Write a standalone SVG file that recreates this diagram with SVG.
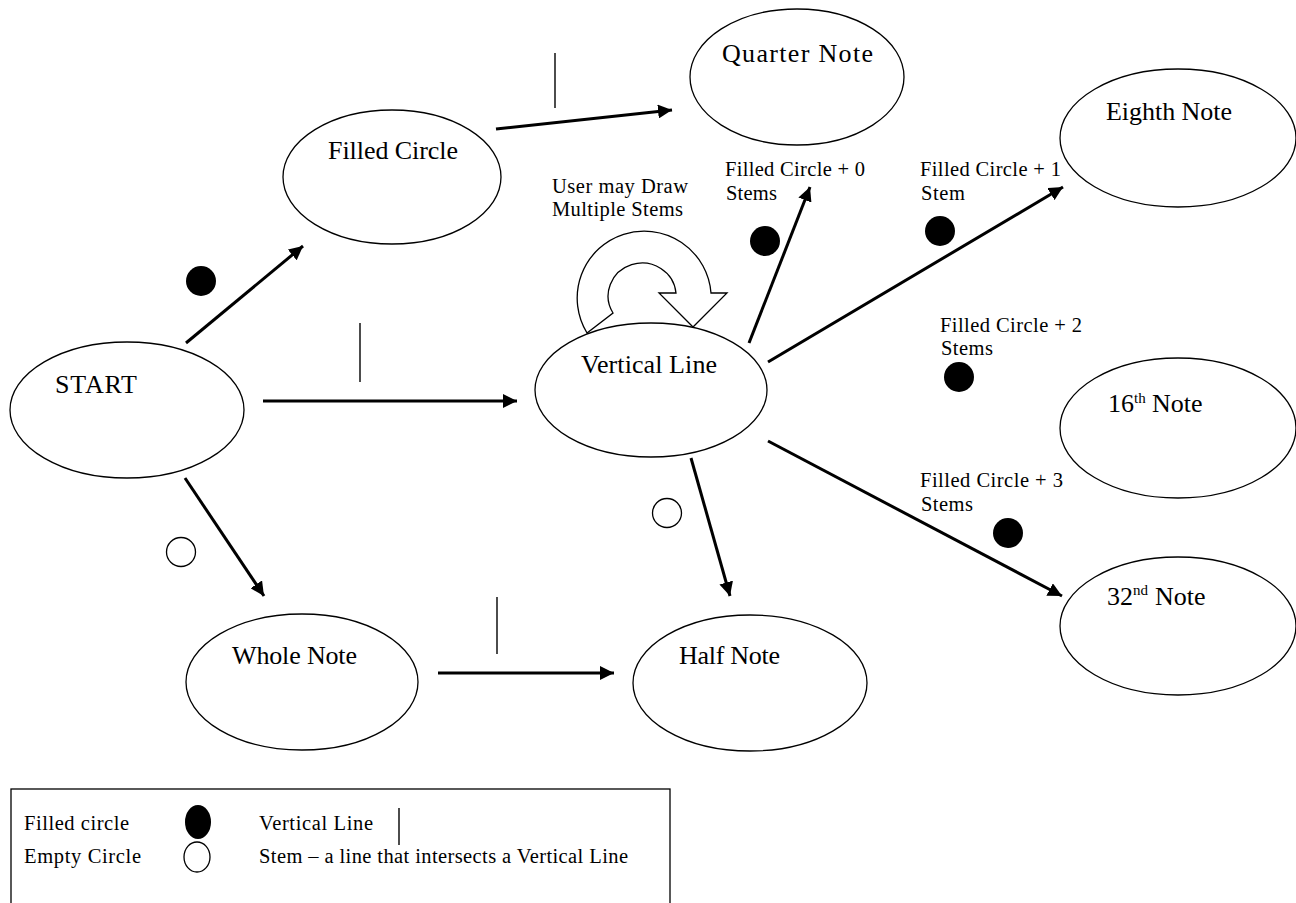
<svg xmlns="http://www.w3.org/2000/svg" width="1296" height="903" viewBox="0 0 1296 903">
<style>
.node ellipse{fill:#fff;stroke:#000;stroke-width:1.3}
.lbl{font-family:"Liberation Serif","Times New Roman",serif;font-size:26px;fill:#000}
.sm{font-family:"Liberation Serif","Times New Roman",serif;font-size:20.5px;fill:#000}
.sup{font-size:15px}
.arr{stroke:#000;stroke-width:3;fill:none;marker-end:url(#ah)}
.tick{stroke:#000;stroke-width:1.4}
</style>
<defs>
<marker id="ah" markerUnits="userSpaceOnUse" markerWidth="15" markerHeight="14" refX="14" refY="7" orient="auto">
<path d="M0,0 L14,7 L0,14 z" fill="#000"/>
</marker>
</defs>
<rect width="1296" height="903" fill="#fff"/>

<g id="start" class="node"><ellipse cx="127" cy="410" rx="117" ry="68"/><text class="lbl" x="55" y="393" textLength="82" lengthAdjust="spacing">START</text></g>
<g id="filled-circle" class="node"><ellipse cx="392" cy="177" rx="109" ry="67"/><text class="lbl" x="328" y="159" textLength="130" lengthAdjust="spacing">Filled Circle</text></g>
<g id="quarter-note" class="node"><ellipse cx="797" cy="77" rx="107" ry="68"/><text class="lbl" x="722" y="62" textLength="151" lengthAdjust="spacing">Quarter Note</text></g>
<g id="eighth-note" class="node"><ellipse cx="1178" cy="138" rx="118" ry="69"/><text class="lbl" x="1106" y="120" textLength="126" lengthAdjust="spacing">Eighth Note</text></g>
<g id="vertical-line" class="node"><ellipse cx="651" cy="390" rx="116" ry="67"/><text class="lbl" x="581" y="373" textLength="136" lengthAdjust="spacing">Vertical Line</text></g>
<g id="sixteenth-note" class="node"><ellipse cx="1178" cy="428" rx="118" ry="70"/><text class="lbl" x="1108" y="412"><tspan>16</tspan><tspan class="sup" x="1134" y="403">th</tspan><tspan x="1152" y="412">Note</tspan></text></g>
<g id="thirtysecond-note" class="node"><ellipse cx="1178" cy="626" rx="118" ry="69"/><text class="lbl" x="1107" y="605"><tspan>32</tspan><tspan class="sup" x="1133" y="595">nd</tspan><tspan x="1155" y="605">Note</tspan></text></g>
<g id="whole-note" class="node"><ellipse cx="302" cy="682" rx="116" ry="68"/><text class="lbl" x="232" y="664" textLength="125" lengthAdjust="spacing">Whole Note</text></g>
<g id="half-note" class="node"><ellipse cx="750" cy="683" rx="117" ry="68"/><text class="lbl" x="679" y="664" textLength="101" lengthAdjust="spacing">Half Note</text></g>

<g id="self-loop">
<path d="M587,333 A67 67 0 1 1 711,293 L727,293 L693,327 L659,293 L676,293 A34 33 0 1 0 613,313 Z" fill="#fff" stroke="#000" stroke-width="1.3" stroke-linejoin="miter"/>
<text class="sm" x="552" y="193" textLength="136" lengthAdjust="spacing">User may Draw</text>
<text class="sm" x="552" y="216" textLength="131" lengthAdjust="spacing">Multiple Stems</text>
</g>

<g id="connectors">
<line class="arr" x1="186" y1="343" x2="303" y2="246"/>
<line class="arr" x1="263" y1="401" x2="517" y2="401"/>
<line class="arr" x1="185" y1="478" x2="264" y2="596"/>
<line class="arr" x1="496" y1="129" x2="672" y2="110"/>
<line class="arr" x1="749" y1="343" x2="810" y2="187"/>
<line class="arr" x1="768" y1="362" x2="1063" y2="187"/>
<line class="arr" x1="691" y1="458" x2="730" y2="596"/>
<line class="arr" x1="768" y1="441" x2="1062" y2="596"/>
<line class="arr" x1="438" y1="673" x2="614" y2="673"/>
</g>

<g id="edge-labels">
<line class="tick" x1="360" y1="323" x2="360" y2="382"/>
<line class="tick" x1="555" y1="53" x2="555" y2="108"/>
<line class="tick" x1="497" y1="597" x2="497" y2="654"/>
<circle cx="201" cy="281" r="15" fill="#000"/>
<circle cx="181" cy="552" r="14.5" fill="#fff" stroke="#000" stroke-width="1.3"/>
<circle cx="667" cy="513" r="14.5" fill="#fff" stroke="#000" stroke-width="1.3"/>
<circle cx="765" cy="241" r="15" fill="#000"/>
<circle cx="940" cy="231" r="15" fill="#000"/>
<circle cx="959" cy="377" r="15" fill="#000"/>
<circle cx="1008" cy="533" r="15" fill="#000"/>
<text class="sm" x="725" y="176" textLength="140" lengthAdjust="spacing">Filled Circle + 0</text>
<text class="sm" x="726" y="200" textLength="51" lengthAdjust="spacing">Stems</text>
<text class="sm" x="920" y="176" textLength="141" lengthAdjust="spacing">Filled Circle + 1</text>
<text class="sm" x="921" y="200" textLength="44" lengthAdjust="spacing">Stem</text>
<text class="sm" x="940" y="332" textLength="142" lengthAdjust="spacing">Filled Circle + 2</text>
<text class="sm" x="941" y="355" textLength="52" lengthAdjust="spacing">Stems</text>
<text class="sm" x="920" y="487" textLength="143" lengthAdjust="spacing">Filled Circle + 3</text>
<text class="sm" x="921" y="511" textLength="52" lengthAdjust="spacing">Stems</text>
</g>

<g id="legend">
<rect x="11" y="789" width="659" height="130" fill="none" stroke="#000" stroke-width="1.3"/>
<text class="sm" x="24" y="830" textLength="105" lengthAdjust="spacing">Filled circle</text>
<ellipse cx="198" cy="822" rx="13" ry="17" fill="#000"/>
<text class="sm" x="259" y="830" textLength="114" lengthAdjust="spacing">Vertical Line</text>
<line class="tick" x1="399" y1="808" x2="399" y2="845"/>
<text class="sm" x="24" y="863" textLength="117" lengthAdjust="spacing">Empty Circle</text>
<ellipse cx="197" cy="857" rx="13" ry="15" fill="#fff" stroke="#000" stroke-width="1.3"/>
<text class="sm" x="259" y="863" textLength="369" lengthAdjust="spacing">Stem – a line that intersects a Vertical Line</text>
</g>
</svg>
